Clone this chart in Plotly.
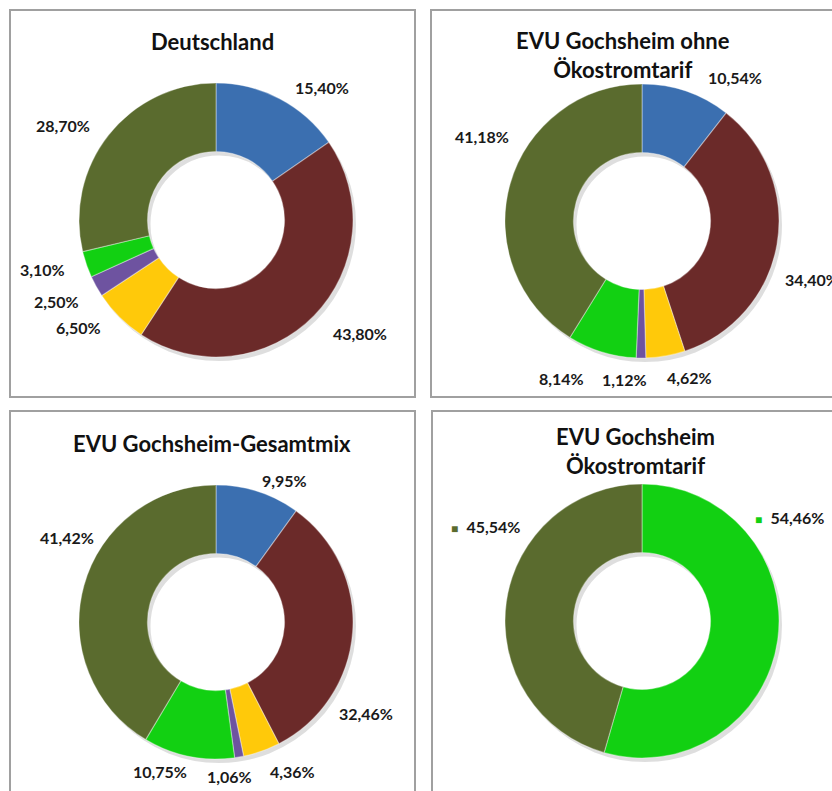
import math
import plotly.graph_objects as go

# ---------------- data ----------------
categories = ["Kernkraft", "Kohle", "Erdgas", "Sonstige fossile", "Erneuerbare (EEG)", "Sonstige erneuerbare"]
deutschland = [15.40, 43.80, 6.50, 2.50, 3.10, 28.70]
ohne_oeko = [10.54, 34.40, 4.62, 1.12, 8.14, 41.18]
gesamtmix = [9.95, 32.46, 4.36, 1.06, 10.75, 41.42]
oeko_categories = ["Erneuerbare (EEG)", "Sonstige erneuerbare"]
oekostrom = [54.46, 45.54]

titles = ["Deutschland", "EVU Gochsheim ohne<br>Ökostromtarif",
          "EVU Gochsheim-Gesamtmix", "EVU Gochsheim<br>Ökostromtarif"]

# ---------------- styling ----------------
colors = {
    "Kernkraft": "#3B6FB0",
    "Kohle": "#6B2A29",
    "Erdgas": "#FFC90A",
    "Sonstige fossile": "#6E53A0",
    "Erneuerbare (EEG)": "#12D012",
    "Sonstige erneuerbare": "#5A6B2E",
}
W, H = 832, 791
R_PX = 137
HOLE = 0.5
FONT = "Lato"

panels = [
    dict(vals=deutschland, cats=categories, center=(216, 220), title_xy=(212, 42),
         nudge=[10.9, -6, 7.2, 2, 3, -6.7], rad=[170, 184, 174, 179, 180, 180], key=False),
    dict(vals=ohne_oeko, cats=categories, center=(642, 221), title_xy=(623, 55),
         nudge=[14, 9, -7, 6, 10, 12], rad=[171, 180, 164, 160, 177, 181], key=False),
    dict(vals=gesamtmix, cats=categories, center=(216, 622), title_xy=(212, 443),
         nudge=[8, 27, -7.5, 4.7, 9, 14], rad=[157, 176, 168, 155, 160, 171], key=False),
    dict(vals=oekostrom, cats=oeko_categories, center=(642, 621), title_xy=(635, 451),
         nudge=[-43, 23], rad=[180, 183], key=True),
]
borders = [(10, 10, 415, 397), (431, 10, 840, 397), (10, 411, 415, 800), (432, 411, 840, 800)]


def px(x):
    return x / W


def py(y):
    return 1 - y / H


def fmt(v):
    return f"{v:.2f}".replace(".", ",") + "%"


fig = go.Figure()
shapes = []
annotations = []

for (x0, y0, x1, y1) in borders:
    shapes.append(dict(type="rect", xref="paper", yref="paper",
                       x0=px(x0), x1=px(x1), y0=py(y1), y1=py(y0),
                       line=dict(color="#A0A0A0", width=2), fillcolor="rgba(0,0,0,0)", layer="below"))

for i, p in enumerate(panels):
    cx, cy = p["center"]
    # soft shadow ring under the donut
    rmid = R_PX * (1 + HOLE) / 2
    sw = R_PX * (1 - HOLE)
    shapes.append(dict(type="circle", xref="paper", yref="paper",
                       x0=px(cx + 3 - rmid), x1=px(cx + 3 + rmid),
                       y0=py(cy + 4 + rmid), y1=py(cy + 4 - rmid),
                       line=dict(color="rgba(0,0,0,0.13)", width=sw), fillcolor="rgba(0,0,0,0)", layer="below"))

    fig.add_trace(go.Pie(
        labels=p["cats"], values=p["vals"], hole=HOLE, sort=False, direction="clockwise",
        rotation=0, textinfo="none", hoverinfo="label+percent", showlegend=False,
        marker=dict(colors=[colors[c] for c in p["cats"]],
                    line=dict(color="rgba(255,255,255,0.35)", width=1.2)),
        domain=dict(x=[px(cx - R_PX), px(cx + R_PX)], y=[py(cy + R_PX), py(cy - R_PX)]),
    ))

    tx, ty = p["title_xy"]
    annotations.append(dict(text=f"<b>{titles[i]}</b>".replace("<br>", "</b><br><b>"),
                            x=px(tx), y=py(ty), xref="paper", yref="paper",
                            showarrow=False, xanchor="center", yanchor="middle",
                            font=dict(family=FONT, size=22, color="#111111"), align="center"))

    total = sum(p["vals"])
    cum = 0
    for j, v in enumerate(p["vals"]):
        mid = (cum + v / 2) / total * 360
        cum += v
        ang = math.radians(mid + p["nudge"][j])
        lx = cx + p["rad"][j] * math.sin(ang)
        ly = cy - p["rad"][j] * math.cos(ang)
        txt = f"<b>{fmt(v)}</b>"
        if p["key"]:
            txt = (f'<span style="color:{colors[p["cats"][j]]};font-size:12px">■</span>'
                   f"&nbsp;&nbsp;" + txt)
        annotations.append(dict(text=txt, x=px(lx), y=py(ly), xref="paper", yref="paper",
                                showarrow=False, xanchor="center", yanchor="middle",
                                font=dict(family=FONT, size=16, color="#1a1a1a")))

fig.update_layout(
    width=W, height=H, margin=dict(l=0, r=0, t=0, b=0),
    paper_bgcolor="white", plot_bgcolor="white",
    shapes=shapes, annotations=annotations,
    font=dict(family=FONT),
)
fig.write_html("out.html", config={"displayModeBar": False},
               post_script="document.body.style.margin='0';document.body.style.overflow='hidden';")
